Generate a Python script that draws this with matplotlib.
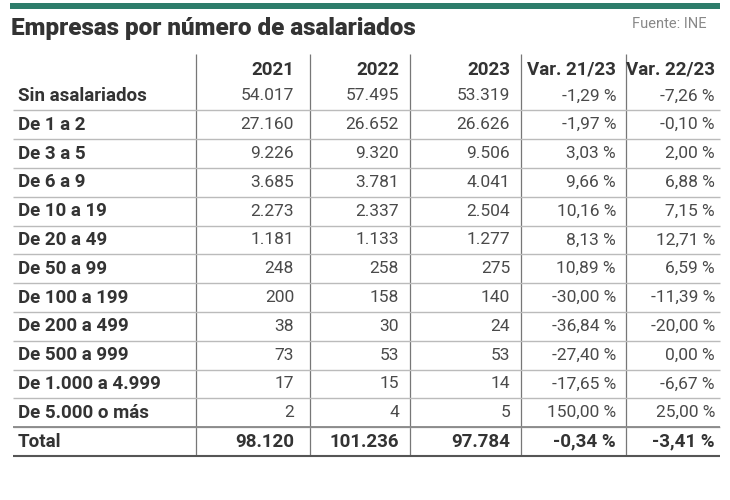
import matplotlib
matplotlib.use('Agg')
import matplotlib.pyplot as plt

categories = ['Sin asalariados', 'De 1 a 2', 'De 3 a 5', 'De 6 a 9', 'De 10 a 19', 'De 20 a 49',
              'De 50 a 99', 'De 100 a 199', 'De 200 a 499', 'De 500 a 999', 'De 1.000 a 4.999',
              'De 5.000 o más']
headers = ['2021', '2022', '2023', 'Var. 21/23', 'Var. 22/23']
y2021 = ['54.017', '27.160', '9.226', '3.685', '2.273', '1.181', '248', '200', '38', '73', '17', '2']
y2022 = ['57.495', '26.652', '9.320', '3.781', '2.337', '1.133', '258', '158', '30', '53', '15', '4']
y2023 = ['53.319', '26.626', '9.506', '4.041', '2.504', '1.277', '275', '140', '24', '53', '14', '5']
var2123 = ['-1,29 %', '-1,97 %', '3,03 %', '9,66 %', '10,16 %', '8,13 %', '10,89 %', '-30,00 %',
           '-36,84 %', '-27,40 %', '-17,65 %', '150,00 %']
var2223 = ['-7,26 %', '-0,10 %', '2,00 %', '6,88 %', '7,15 %', '12,71 %', '6,59 %', '-11,39 %',
           '-20,00 %', '0,00 %', '-6,67 %', '25,00 %']
total = ['98.120', '101.236', '97.784', '-0,34 %', '-3,41 %']

plt.rcParams['font.family'] = ['Roboto', 'DejaVu Sans']
fig = plt.figure(figsize=(7.3, 5), dpi=100)
ax = fig.add_axes([0, 0, 1, 1])
ax.set_xlim(0, 730)
ax.set_ylim(500, 0)
ax.axis('off')

dark = '#333333'
ax.add_patch(plt.Rectangle((10, 3), 710, 6, color='#2e7d6b', lw=0))
ax.text(11, 28, 'Empresas por número de asalariados', fontsize=17.5, fontweight='heavy',
        color=dark, va='center')
ax.text(706, 24, 'Fuente: INE', fontsize=10.5, color='#888888', va='center', ha='right')

col_right = [298, 403, 514, 620, 719]
vlines = [196, 310, 410, 521, 626]
y_head = 70
row_h = 28.8
y_first = 96

ax.vlines(vlines, 54, 456, color='#777777', lw=0.9)
for x, h in zip(col_right, headers):
    ax.text(x - 4, y_head, h, fontsize=13.5, fontweight='bold', color=dark, ha='right', va='center')

cols = [y2021, y2022, y2023, var2123, var2223]
for i, cat in enumerate(categories):
    y = y_first + i * row_h
    ax.text(18, y, cat, fontsize=13.5, fontweight='bold', color=dark, va='center')
    for x, col in zip(col_right, cols):
        ax.text(x - 4, y, col[i], fontsize=12.5, color='#4a4a4a', ha='right', va='center')
    ax.hlines(y + row_h / 2, 13, 720, color='#bbbbbb', lw=1)

yt = y_first + len(categories) * row_h
ax.hlines(yt - row_h / 2, 13, 720, color='#888888', lw=1.3)
ax.text(18, yt, 'Total', fontsize=13.5, fontweight='bold', color=dark, va='center')
for x, v in zip(col_right, total):
    ax.text(x - 4, yt, v, fontsize=13.5, fontweight='bold', color=dark, ha='right', va='center')
ax.hlines(yt + row_h / 2, 13, 720, color='#555555', lw=1.5)

fig.savefig('out.png', dpi=100, facecolor='white')
